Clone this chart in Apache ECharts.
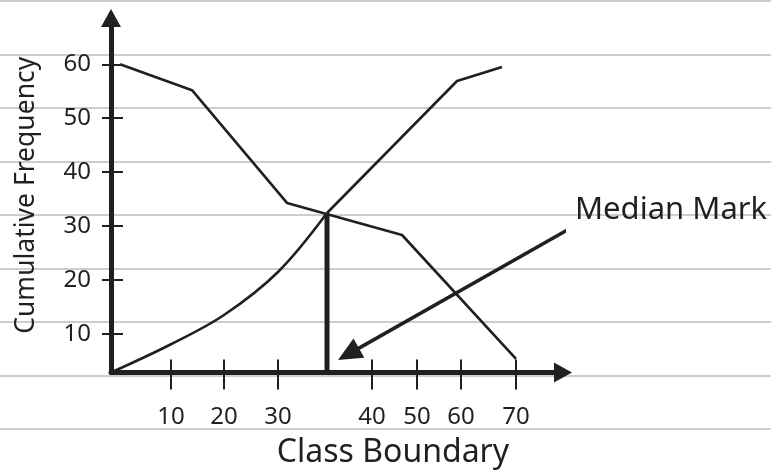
<!DOCTYPE html>
<html>
<head>
<meta charset="utf-8">
<script src="https://cdn.jsdelivr.net/npm/echarts@6/dist/echarts.min.js"></script>
<style>html,body{margin:0;padding:0;background:#fff;}#c{width:771px;height:473px;}</style>
</head>
<body>
<div id="c"></div>
<script>
// ---- data (x in schematic axis units, y = cumulative frequency) ----
var xTickValues = [10, 18.83, 27.83, 43.5, 51, 58.33, 67.5];
var xTickLabels = ['10', '20', '30', '40', '50', '60', '70'];
var yTickValues = [10, 20, 30, 40, 50, 60];
var lessThanCurve = [[0, 2.86], [10, 8.1], [18.83, 13.52], [27.83, 21.5], [36, 32.43]];
var lessThanLine = [[36, 32.43], [57.67, 56.9], [65.17, 59.5]];
var moreThan = [[1.5, 60], [13.5, 55.2], [29.33, 34.3], [48.5, 28.35], [67.5, 5.37]];
var medianLine = [[36, 32.43], [36, 2.86]];
var arrowFrom = [76.67, 29.65];
var arrowTo = [39.57, 6.27];
var labelPoint = [77.33, 33.0];
var labelText = 'Median Mark';

var INK = '#231f20';
var FONT = 'Noto Sans';
var xMin = 0, xMax = 75.33, yMin = 2.86, yMax = 68.58;

var chart = echarts.init(document.getElementById('c'), null, {renderer: 'canvas'});
function buildOption(arrowRotate) {
  return {
  animation: false,
  backgroundColor: '#fff',
  textStyle: {fontFamily: FONT, color: INK},
  grid: [
    {left: 111, top: 18, right: 208, bottom: 100.5, outerBoundsMode: 'none', containLabel: false},
    {left: 0, top: 1, right: 0, bottom: 44, outerBoundsMode: 'none', containLabel: false}
  ],
  xAxis: [
    {
      type: 'value', gridIndex: 0, min: xMin, max: xMax, position: 'bottom',
      name: 'Class Boundary', nameLocation: 'middle', nameGap: 64,
      nameTextStyle: {fontSize: 32, color: INK, fontFamily: FONT, padding: [0, 0, 0, 112]},
      axisLine: {show: true, onZero: false, symbol: ['none', 'triangle'], symbolSize: [20, 18],
        lineStyle: {color: INK, width: 5}},
      axisTick: {show: true, inside: false, length: 17, customValues: xTickValues,
        lineStyle: {color: INK, width: 2}},
      axisLabel: {show: true, margin: 33, fontSize: 24, color: INK, fontFamily: FONT,
        customValues: xTickValues,
        formatter: function (v) {
          for (var i = 0; i < xTickValues.length; i++) {
            if (Math.abs(xTickValues[i] - v) < 1e-6) return xTickLabels[i];
          }
          return '';
        }},
      splitLine: {show: false}
    },
    {
      type: 'value', gridIndex: 0, min: xMin, max: xMax, position: 'bottom',
      axisLine: {show: false, onZero: false},
      axisTick: {show: true, inside: true, length: 13, customValues: xTickValues,
        lineStyle: {color: INK, width: 2}},
      axisLabel: {show: false},
      splitLine: {show: false}
    },
    {
      type: 'value', gridIndex: 1, min: 0, max: 1, show: false
    }
  ],
  yAxis: [
    {
      type: 'value', gridIndex: 0, min: yMin, max: yMax, position: 'left',
      name: 'Cumulative Frequency', nameLocation: 'middle', nameGap: 71,
      nameTextStyle: {fontSize: 26.5, color: INK, fontFamily: FONT},
      axisLine: {show: true, onZero: false, symbol: ['none', 'triangle'], symbolSize: [20, 18],
        lineStyle: {color: INK, width: 5}},
      axisTick: {show: true, inside: false, length: 9, customValues: yTickValues,
        lineStyle: {color: INK, width: 2}},
      axisLabel: {show: true, margin: 20, fontSize: 24, color: INK, fontFamily: FONT,
        customValues: yTickValues},
      splitLine: {show: false}
    },
    {
      type: 'value', gridIndex: 0, min: yMin, max: yMax, position: 'left',
      axisLine: {show: false, onZero: false},
      axisTick: {show: true, inside: true, length: 12, customValues: yTickValues,
        lineStyle: {color: INK, width: 2}},
      axisLabel: {show: false},
      splitLine: {show: false}
    },
    {
      type: 'value', gridIndex: 1, min: 0, max: 8, interval: 1, inverse: true,
      axisLine: {show: false}, axisTick: {show: false}, axisLabel: {show: false},
      splitLine: {show: true, lineStyle: {color: '#bdbdbd', width: 1.5}},
      z: 0
    }
  ],
  series: [
    {
      type: 'line', xAxisIndex: 0, yAxisIndex: 0, data: lessThanCurve, smooth: 0.35,
      symbol: 'none', lineStyle: {color: INK, width: 2.6}, silent: true, z: 5
    },
    {
      type: 'line', xAxisIndex: 0, yAxisIndex: 0, data: lessThanLine,
      symbol: 'none', lineStyle: {color: INK, width: 2.6}, silent: true, z: 5
    },
    {
      type: 'line', xAxisIndex: 0, yAxisIndex: 0, data: moreThan,
      symbol: 'none', lineStyle: {color: INK, width: 2.6}, silent: true, z: 5
    },
    {
      type: 'line', xAxisIndex: 0, yAxisIndex: 0, data: medianLine,
      symbol: 'none', lineStyle: {color: INK, width: 5, cap: 'butt'}, silent: true, z: 6
    },
    {
      type: 'line', xAxisIndex: 0, yAxisIndex: 0, clip: false, silent: true, z: 7,
      lineStyle: {color: INK, width: 3.5},
      itemStyle: {color: INK, opacity: 1},
      data: [
        {value: arrowFrom, symbol: 'none'},
        {value: arrowTo, symbol: 'triangle', symbolSize: [22, 24], symbolRotate: arrowRotate}
      ]
    },
    {
      type: 'scatter', xAxisIndex: 0, yAxisIndex: 0, data: [labelPoint], clip: false,
      symbolSize: 0, silent: true, z: 8,
      itemStyle: {opacity: 1, color: INK},
      label: {show: true, position: 'right', distance: 0, formatter: labelText,
        fontSize: 31, color: INK, fontFamily: FONT}
    }
  ]
  };
}
chart.setOption(buildOption(0));
// orient the arrow head along its line, using the chart's own scales
var p0 = chart.convertToPixel({gridIndex: 0}, arrowFrom);
var p1 = chart.convertToPixel({gridIndex: 0}, arrowTo);
var ang = Math.atan2(-(p1[1] - p0[1]), p1[0] - p0[0]) * 180 / Math.PI; // math angle of direction
chart.setOption(buildOption(ang - 90));
</script>
</body>
</html>
